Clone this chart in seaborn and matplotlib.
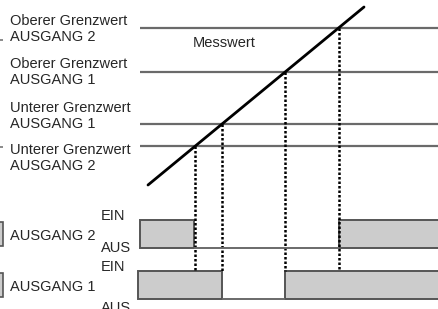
import matplotlib
matplotlib.use("Agg")
import matplotlib.pyplot as plt
import seaborn as sns
import numpy as np
import pandas as pd

sns.set_style("white")
plt.rcParams["font.family"] = ["Liberation Sans", "DejaVu Sans"]

# drawing units: x = time, y = level (screen-like, top is 0)
limit_names = ["Oberer Grenzwert\nAUSGANG 2", "Oberer Grenzwert\nAUSGANG 1",
               "Unterer Grenzwert\nAUSGANG 1", "Unterer Grenzwert\nAUSGANG 2"]
limit_levels = [28, 72, 124, 146]
label_y = [29, 72, 116, 158]
meas_x = [148, 364]
meas_y = [185, 7]

# switching points (time where the Messwert crosses the limit)
out2_on = [(140, 194), (339, 460)]
out1_on = [(138, 222), (285, 460)]
out_names = ["AUSGANG 2", "AUSGANG 1"]

fig = plt.figure(figsize=(4.39, 3.09), dpi=100)
ax = fig.add_axes([0, 0, 1, 1])
ax.set_xlim(0, 439)
ax.set_ylim(309, 0)
ax.axis("off")

fs = 10.5

# limit lines + labels
for name, lvl, ly in zip(limit_names, limit_levels, label_y):
    ax.hlines(lvl, 140, 439, color="#6a6a6a", lw=1.6)
    ax.text(10, ly, name, fontsize=fs, va="center", ha="left", linespacing=1.25)
ax.hlines([40, 147], 0, 3, color="#777777", lw=1.2)

# measured value
df = pd.DataFrame({"t": meas_x, "v": meas_y})
sns.lineplot(data=df, x="t", y="v", ax=ax, color="black", lw=2)
ax.text(193, 43, "Messwert", fontsize=fs, va="center")

# dotted drop lines from crossings
slope = (meas_y[1] - meas_y[0]) / (meas_x[1] - meas_x[0])
for lvl in limit_levels:
    xc = meas_x[0] + (lvl - meas_y[0]) / slope
    ax.vlines(xc, lvl, 271, color="black", lw=1.8, linestyles=(0, (1.0, 0.8)))

# output bars
rows = [(out2_on, 220, 248, 248), (out1_on, 271, 299, 308)]
for (spans, top, bot, aus_y), name in zip(rows, out_names):
    ax.hlines(bot, spans[0][1], spans[1][0], color="#6a6a6a", lw=1.4)
    for a, b in spans:
        ax.add_patch(plt.Rectangle((a, top), b - a, bot - top, facecolor="#cccccc",
                                   edgecolor="#555555", lw=1.4))
    ax.add_patch(plt.Rectangle((-10, top + 2), 13, bot - top - 4, facecolor="#cccccc",
                               edgecolor="#555555", lw=1.2))
    ax.text(10, (top + bot) / 2 + 2, name, fontsize=fs, va="center")
    ax.text(101, top - 4, "EIN", fontsize=fs, va="center")
    ax.text(101, aus_y, "AUS", fontsize=fs, va="center")

fig.savefig("out.png", dpi=100)
